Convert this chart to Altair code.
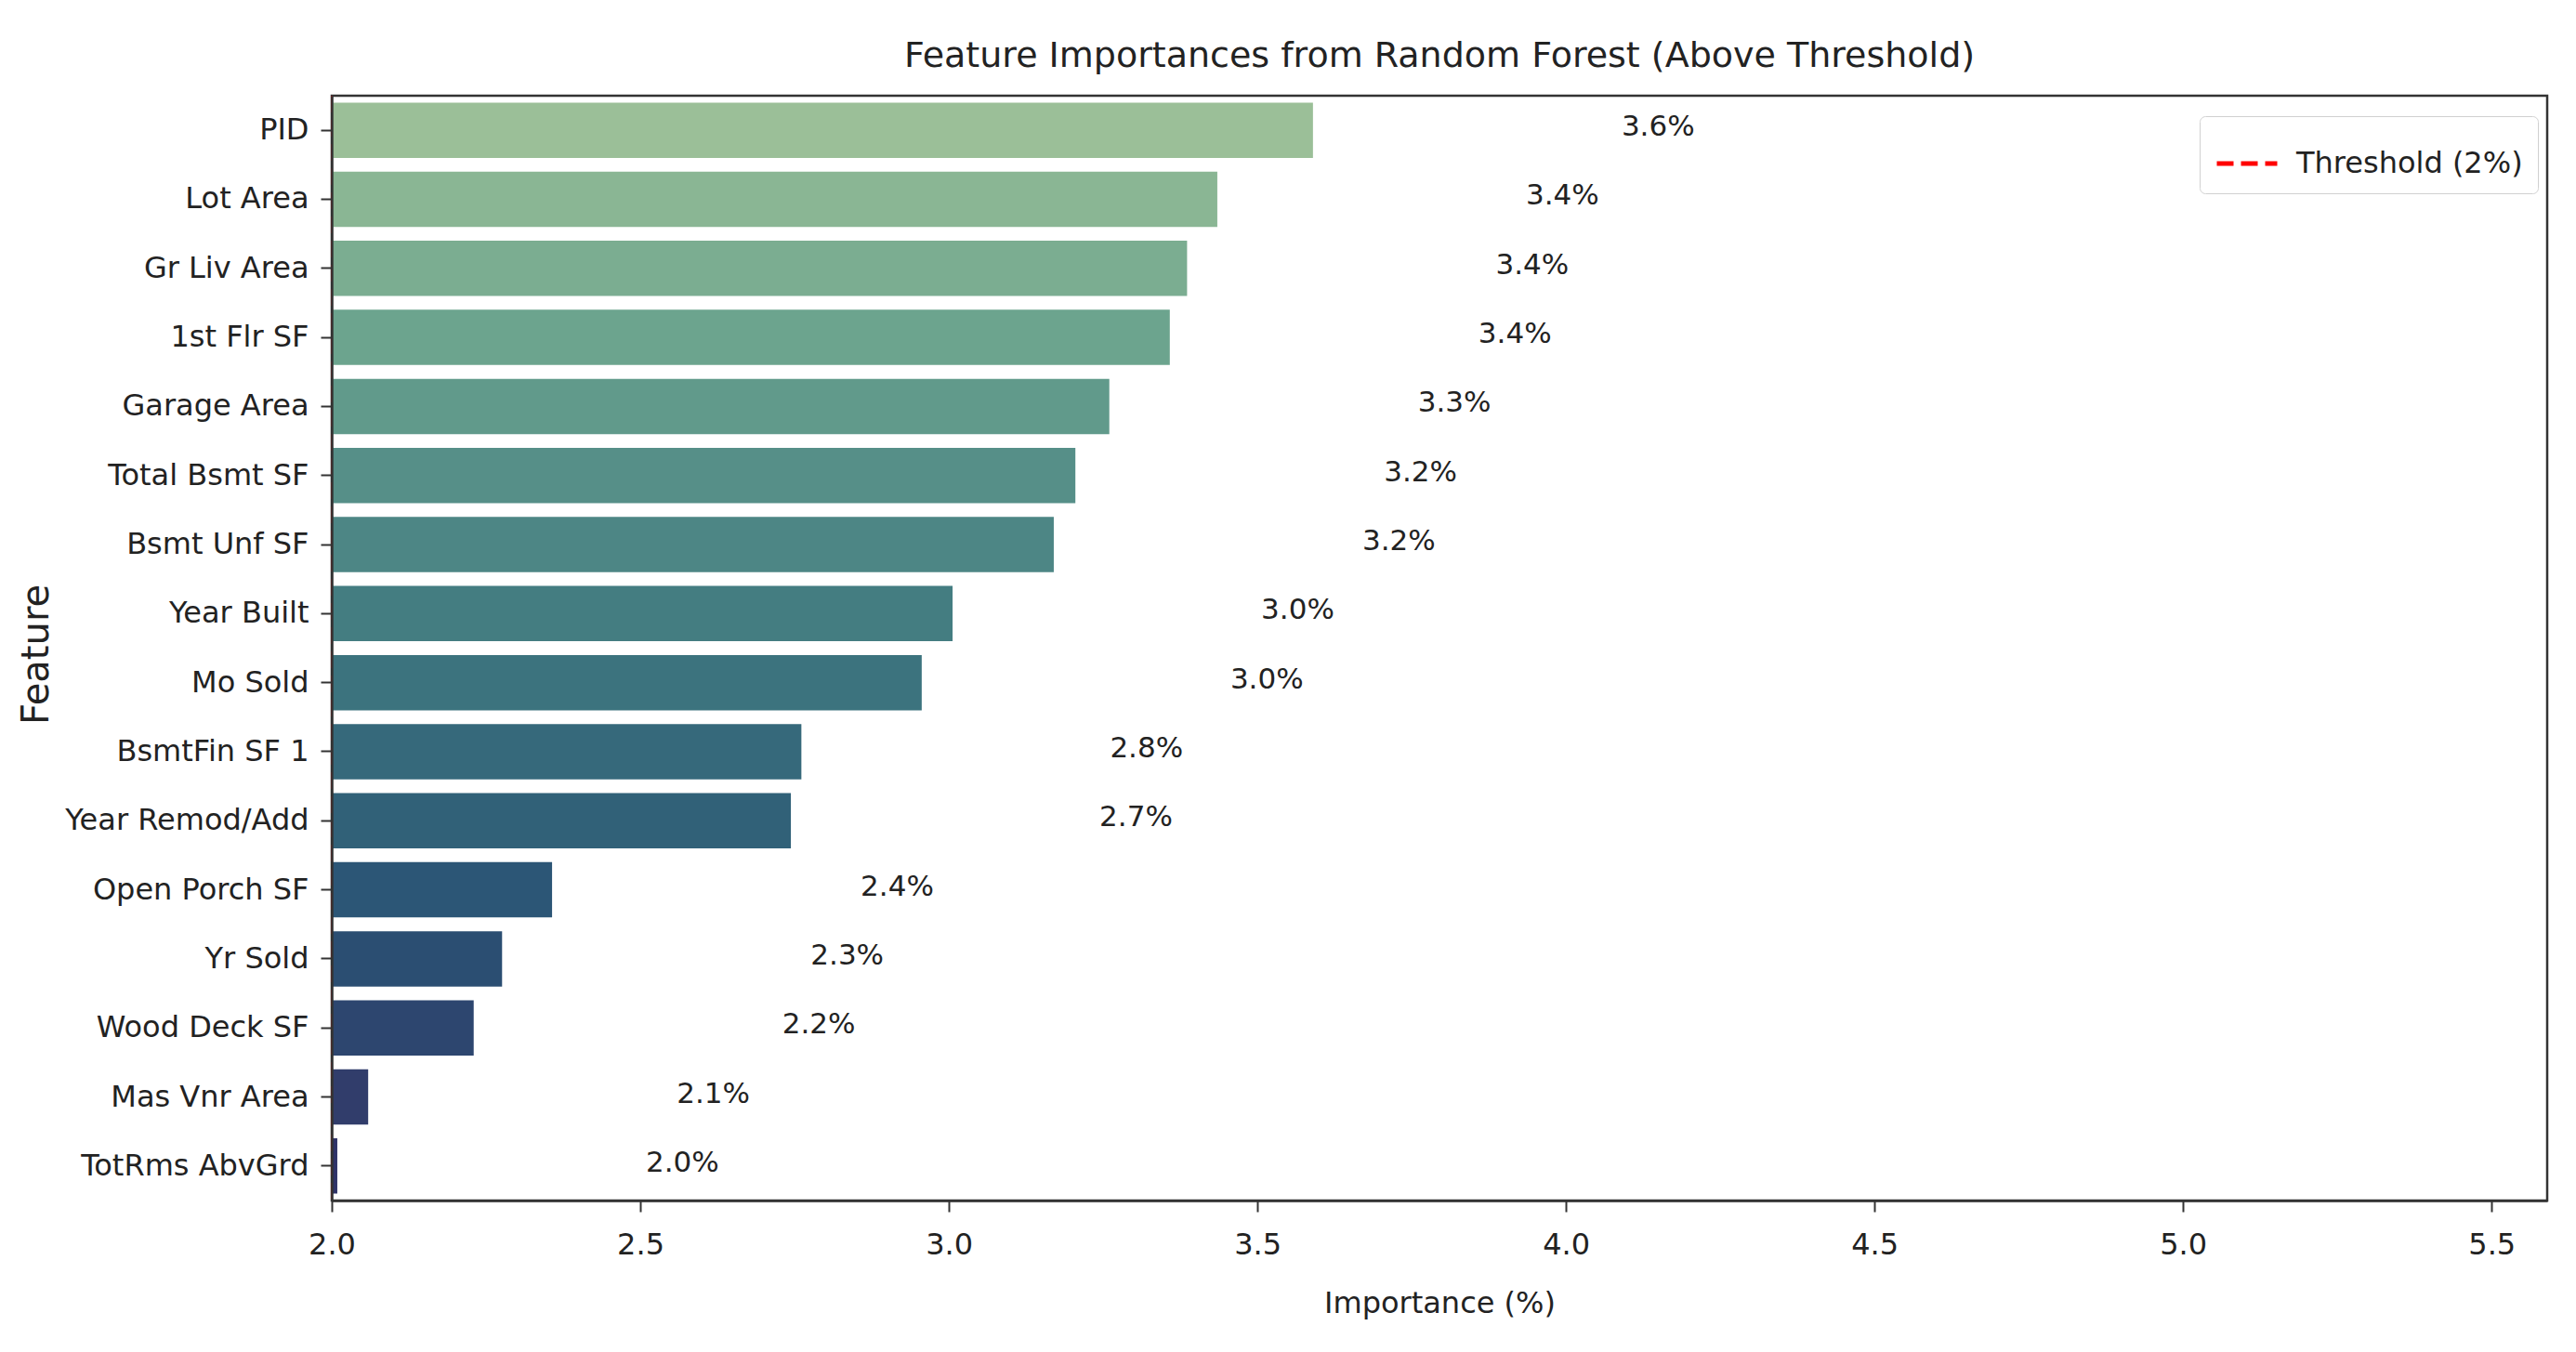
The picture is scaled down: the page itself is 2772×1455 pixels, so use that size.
import altair as alt
import pandas as pd

# ---- data ----
features = ["PID", "Lot Area", "Gr Liv Area", "1st Flr SF", "Garage Area",
            "Total Bsmt SF", "Bsmt Unf SF", "Year Built", "Mo Sold",
            "BsmtFin SF 1", "Year Remod/Add", "Open Porch SF", "Yr Sold",
            "Wood Deck SF", "Mas Vnr Area", "TotRms AbvGrd"]
importance = [3.59, 3.435, 3.386, 3.358, 3.26, 3.205, 3.17, 3.006, 2.956,
              2.761, 2.744, 2.357, 2.276, 2.230, 2.059, 2.009]
threshold = [2.0]
threshold_label = ["Threshold (2%)"]
x_ticks = [2.0, 2.5, 3.0, 3.5, 4.0, 4.5, 5.0, 5.5]

# ---- style ----
palette = ["#9bbf98", "#8ab694", "#7bad91", "#6ca48e", "#619a8b", "#568f88",
           "#4d8685", "#447d81", "#3c737e", "#36697b", "#316178", "#2c5676",
           "#2b4e72", "#2d466f", "#313d6b", "#2f3368"]
FONT = "DejaVu Sans"
TXT = "#222222"
LINE = "#333333"

df = pd.DataFrame({"feature": features, "value": importance})
df_thr = pd.DataFrame({"threshold": threshold, "label": threshold_label})

x_scale = alt.Scale(domain=[2.0, 5.59], nice=False, zero=False)
y_enc = alt.Y("feature:N", sort=features,
              scale=alt.Scale(paddingInner=0.2, paddingOuter=0.1),
              axis=alt.Axis(title="Feature", titleX=-318, titleY=601,
                            titleAngle=-90, titleAlign="center",
                            titleBaseline="middle", titleFontSize=40,
                            labelFontSize=32, labelPadding=13, tickSize=12,
                            labelBaseline="middle", labelLimit=0, zindex=1))

bars = alt.Chart(df).mark_bar(clip=True).encode(
    x=alt.X("value:Q", scale=x_scale,
            axis=alt.Axis(title="Importance (%)", values=x_ticks, format=".1f",
                          labelFontSize=32, titleFontSize=32, tickSize=12,
                          labelPadding=20, labelFlush=False,
                          titleX=1192, titleY=110, titleBaseline="middle",
                          titleAlign="center", zindex=1, grid=False)),
    y=y_enc,
    fill=alt.Fill("feature:N", scale=alt.Scale(domain=features, range=palette),
                  legend=None),
)

labels = alt.Chart(df).transform_calculate(
    lx="datum.value + 0.5",
    txt="format(datum.value, '.1f') + '%'",
).mark_text(align="left", baseline="middle", dy=-3, fontSize=31,
            font=FONT, color=TXT).encode(
    x=alt.X("lx:Q", scale=x_scale),
    y=alt.Y("feature:N", sort=features),
    text="txt:N",
)

rule = alt.Chart(df_thr).mark_rule(strokeDash=[18, 8], strokeWidth=1).encode(
    x=alt.X("threshold:Q", scale=x_scale),
    stroke=alt.Stroke("label:N", scale=alt.Scale(range=["red"]),
                      legend=alt.Legend(title=None, orient="none",
                                        legendX=2010, legendY=22,
                                        symbolType="stroke", symbolSize=4225,
                                        symbolStrokeWidth=5,
                                        symbolDash=[18, 8],
                                        labelFontSize=32, labelOffset=18,
                                        labelLimit=0,
                                        padding=16, fillColor="white",
                                        strokeColor="#d0d0d0",
                                        cornerRadius=6)),
)

chart = alt.layer(rule, bars, labels).properties(
    width=2384, height=1189,
    title=alt.TitleParams("Feature Importances from Random Forest (Above Threshold)",
                          fontSize=38, font=FONT, fontWeight="normal",
                          anchor="middle", baseline="bottom", offset=24,
                          dy=39, frame="group", color=TXT),
    autosize=alt.AutoSizeParams(type="none"),
    padding={"left": 349, "top": 95, "right": 20, "bottom": 150},
).configure_view(
    stroke=LINE, strokeWidth=2.5
).configure_axis(
    labelFont=FONT, titleFont=FONT, labelColor=TXT, titleColor=TXT,
    titleFontWeight="normal", domainColor=LINE, domainWidth=2.5,
    tickColor=LINE, tickWidth=2
).configure_legend(
    labelFont=FONT, labelColor=TXT
)

chart.save("out.html", embed_options={"renderer": "svg", "actions": False})
